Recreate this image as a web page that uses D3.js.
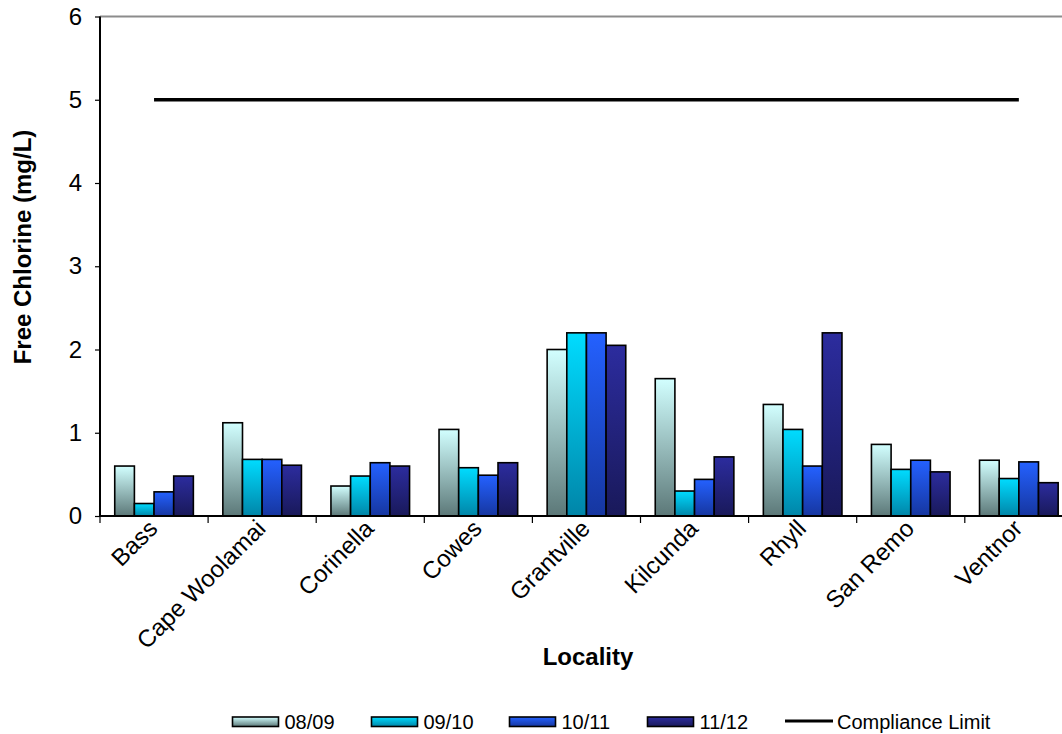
<!DOCTYPE html>
<html>
<head>
<meta charset="utf-8">
<script src="https://cdn.jsdelivr.net/npm/d3@7"></script>
<style>
  html, body { margin: 0; padding: 0; background: #fff; }
  svg { display: block; font-family: Arial, "Liberation Sans", sans-serif; }
</style>
</head>
<body>
<svg id="chart" width="1062" height="734"></svg>
<script>
// Free chlorine by locality, four financial years
const localities = ["Bass", "Cape Woolamai", "Corinella", "Cowes", "Grantville", "Kilcunda", "Rhyll", "San Remo", "Ventnor"];
const seriesNames = ["08/09", "09/10", "10/11", "11/12"];
const fy0809 = [0.60, 1.12, 0.36, 1.04, 2.00, 1.65, 1.34, 0.86, 0.67];
const fy0910 = [0.15, 0.68, 0.48, 0.58, 2.20, 0.30, 1.04, 0.56, 0.45];
const fy1011 = [0.29, 0.68, 0.64, 0.49, 2.20, 0.44, 0.60, 0.67, 0.65];
const fy1112 = [0.48, 0.61, 0.60, 0.64, 2.05, 0.71, 2.20, 0.53, 0.40];
const complianceLimit = 5;
const yTicks = [0, 1, 2, 3, 4, 5, 6];

const seriesValues = [fy0809, fy0910, fy1011, fy1112];
const gradients = [
  ["#d2ffff", "#5c7878"],
  ["#00dcff", "#0085a8"],
  ["#2461ff", "#1636a0"],
  ["#2c2c9e", "#19195a"]
];

const svg = d3.select("#chart");
const plotLeft = 100, plotTop = 16.5, plotBottom = 516;
const band = 108.1;
const plotRight = plotLeft + band * localities.length;

const x = d3.scaleBand().domain(localities).range([plotLeft, plotRight]).paddingInner(0).paddingOuter(0);
const barW = band / 5.5;
const xs = d3.scaleBand().domain(seriesNames).range([0, barW * 4]);
const y = d3.scaleLinear().domain([0, 6]).range([plotBottom, plotTop]);

// gradient fills for the bars
const defs = svg.append("defs");
gradients.forEach((g, i) => {
  const lg = defs.append("linearGradient").attr("id", "grad" + i)
    .attr("x1", 0).attr("y1", 0).attr("x2", 0).attr("y2", 1);
  lg.append("stop").attr("offset", "0%").attr("stop-color", g[0]);
  lg.append("stop").attr("offset", "100%").attr("stop-color", g[1]);
});

// top border of the plot area
svg.append("line").attr("x1", plotLeft).attr("x2", 1062).attr("y1", y(6)).attr("y2", y(6))
  .attr("stroke", "#8c8c8c").attr("stroke-width", 2);

// bars
seriesValues.forEach((vals, si) => {
  svg.append("g").selectAll("rect").data(vals).join("rect")
    .attr("x", (d, i) => x(localities[i]) + (band - barW * 4) / 2 + xs(seriesNames[si]))
    .attr("y", d => y(d))
    .attr("width", barW)
    .attr("height", d => y(0) - y(d))
    .attr("fill", `url(#grad${si})`)
    .attr("stroke", "#000").attr("stroke-width", 1.6);
});

// compliance limit line
svg.append("line")
  .attr("x1", x(localities[0]) + band / 2)
  .attr("x2", x(localities[localities.length - 1]) + band / 2)
  .attr("y1", y(complianceLimit)).attr("y2", y(complianceLimit))
  .attr("stroke", "#000").attr("stroke-width", 3.5);

// y axis
const yAxis = svg.append("g").attr("transform", `translate(${plotLeft},0)`)
  .call(d3.axisLeft(y).tickValues(yTicks).tickSize(5).tickPadding(13).tickFormat(d3.format("d")));
yAxis.select(".domain").attr("stroke", "#000").attr("stroke-width", 2).attr("d", `M0,${y(6)}V${y(0)}`);
yAxis.selectAll(".tick line").attr("stroke", "#000").attr("stroke-width", 1.2);
yAxis.selectAll(".tick text").attr("font-size", 24).attr("fill", "#000")
  .attr("font-family", "Arial, 'Liberation Sans', sans-serif");

// x axis baseline and category ticks
const xAxis = svg.append("g").attr("transform", `translate(0,${plotBottom})`);
xAxis.append("line").attr("x1", plotLeft).attr("x2", 1062).attr("y1", 0).attr("y2", 0)
  .attr("stroke", "#000").attr("stroke-width", 2);
const boundaries = localities.map(l => x(l)).concat([plotRight]);
xAxis.selectAll("line.tk").data(boundaries).join("line").attr("class", "tk")
  .attr("x1", d => d).attr("x2", d => d).attr("y1", 0).attr("y2", 7)
  .attr("stroke", "#000").attr("stroke-width", 1.2);
xAxis.selectAll("text").data(localities).join("text")
  .attr("transform", d => `translate(${x(d) + band / 2 - 1},${8}) rotate(-45)`)
  .attr("text-anchor", "end").attr("dy", "0.35em")
  .attr("font-size", 24).attr("fill", "#000")
  .text(d => d);

// axis titles
svg.append("text").attr("x", 588).attr("y", 665).attr("text-anchor", "middle")
  .attr("font-size", 24).attr("font-weight", "bold").text("Locality");
svg.append("text").attr("transform", `translate(31,247) rotate(-90)`)
  .attr("text-anchor", "middle").attr("font-size", 24).attr("font-weight", "bold")
  .text("Free Chlorine (mg/L)");

// legend
const legendX = [232.5, 371.5, 509.5, 647.5];
const lg = svg.append("g");
seriesNames.forEach((name, i) => {
  lg.append("rect").attr("x", legendX[i]).attr("y", 717).attr("width", 46).attr("height", 9.5)
    .attr("fill", `url(#grad${i})`).attr("stroke", "#000").attr("stroke-width", 1.6);
  lg.append("text").attr("x", legendX[i] + 52).attr("y", 721.5).attr("dy", "0.35em")
    .attr("font-size", 20).text(name);
});
lg.append("line").attr("x1", 785).attr("x2", 833).attr("y1", 721).attr("y2", 721)
  .attr("stroke", "#000").attr("stroke-width", 3);
lg.append("text").attr("x", 837).attr("y", 721.5).attr("dy", "0.35em")
  .attr("font-size", 20).text("Compliance Limit");
</script>
</body>
</html>
